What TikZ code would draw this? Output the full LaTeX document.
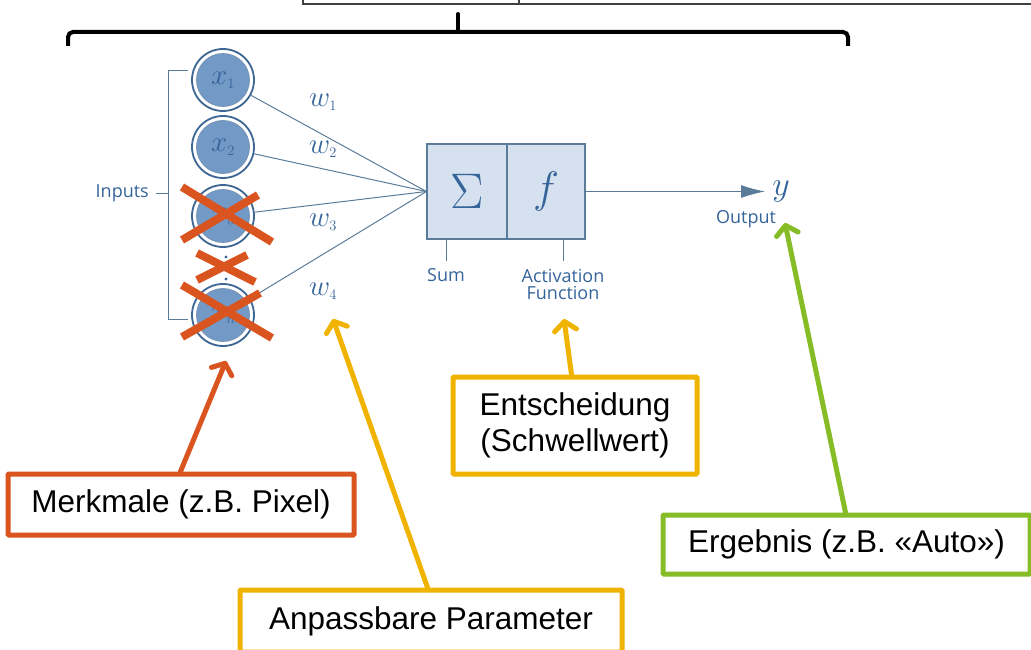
\RequirePackage{fix-cm}
\documentclass[tikz,border=0pt]{standalone}
\usepackage{fontspec}
\setmainfont{Liberation Sans}
\newfontfamily\nnfont{Open Sans}
\usetikzlibrary{arrows.meta,calc}
\definecolor{nnblue}{HTML}{34649A}
\definecolor{nnline}{HTML}{5B7C99}
\definecolor{nnfill}{HTML}{D5E1EE}
\definecolor{cfill}{HTML}{7399C6}
\definecolor{cring}{HTML}{3E6694}
\definecolor{corange}{HTML}{D9541E}
\definecolor{cyellow}{HTML}{F0B400}
\definecolor{cgreen}{HTML}{86BC25}
\tikzset{
  inputnode/.style={circle, minimum size=62pt, inner sep=0pt, draw=cring, line width=1.8pt, fill=white,
    path picture={\fill[cfill] (path picture bounding box.center) circle (26.5pt);
                  \draw[cring!70, line width=0.8pt] (path picture bounding box.center) circle (26.5pt);}},
  nnbox/.style={rectangle, draw=nnline, line width=1.2pt, fill=nnfill, inner sep=0pt},
  wire/.style={draw=nnline, line width=1pt},
  nnlabel/.style={text=nnblue, font=\nnfont\fontsize{18}{17}\selectfont, inner sep=0pt, align=center},
  mathlabel/.style={text=nnblue, inner sep=0pt},
  xlab/.style={mathlabel, font=\fontsize{29}{29}\selectfont},
  wlab/.style={mathlabel, font=\fontsize{29}{29}\selectfont},
  crossline/.style={draw=corange, line width=8pt},
  callbox/.style={rectangle, draw=#1, line width=5pt, fill=white, inner sep=0pt, align=center,
    font=\fontsize{31.5}{36}\selectfont, rounded corners=1pt},
  callarrow/.style={draw=#1, line width=5pt, line cap=round, -{Straight Barb[round,length=9pt,width=22pt]}},
}
\begin{document}
\begin{tikzpicture}[x=1pt,y=-1pt]
\useasboundingbox (0,0) rectangle (1031,650);

% top box (cut)
\draw[line width=1.5pt, draw=black!75] (303,-5) -- (303,4) -- (1040,4);
\draw[line width=1.5pt, draw=black!75] (519,-5) -- (519,4);

% brace
\draw[line width=4pt, rounded corners=5pt] (68,46) -- (68,32) -- (848,32) -- (848,46);
\draw[line width=4pt, line cap=round] (458,32) -- (458,14);

% input circles
\node[inputnode] (x1) at (223,80) {};
\node[inputnode] (x2) at (223,147) {};
\node[inputnode] (x3) at (223,216) {};
\node[inputnode] (xn) at (223,315) {};
\node[xlab] at (x1) {$x_{\scriptscriptstyle 1}$};
\node[xlab] at (x2) {$x_{\scriptscriptstyle 2}$};
\node[xlab] at (x3) {$x_{\scriptscriptstyle 3}$};
\node[xlab] at (xn) {$x_{\scriptscriptstyle n}$};
\fill[nnblue] (226,257) circle (1.6pt) (226,279) circle (1.6pt);

% inputs bracket
\node[nnlabel, anchor=east] (inputs) at (149,193) {Inputs};
\draw[wire] (188,71) -- (168,71) -- (168,319) -- (188,319);
\draw[wire] (inputs.east) ++(7pt,0) -- (168,193);

% summation / activation box
\node[nnbox, minimum width=80pt, minimum height=95pt] (sum) at (467,191.5) {};
\node[nnbox, minimum width=78pt, minimum height=95pt] (act) at (546,191.5) {};
\node[mathlabel, font=\fontsize{50}{50}\selectfont] at (sum) {$\Sigma$};
\node[mathlabel, font=\fontsize{44}{44}\selectfont] at (act) {$f$};

% weights
\draw[wire] (x1) -- (sum.west);
\draw[wire] (x2) -- (sum.west);
\draw[wire] (x3) -- (sum.west);
\draw[wire] (xn) -- (sum.west);
\node[wlab] at (323,102) {$w_{\scriptscriptstyle 1}$};
\node[wlab] at (323,149) {$w_{\scriptscriptstyle 2}$};
\node[wlab] at (323,222) {$w_{\scriptscriptstyle 3}$};
\node[wlab] at (323,291) {$w_{\scriptscriptstyle 4}$};

% output
\node[mathlabel, font=\fontsize{34}{34}\selectfont] (y) at (781,191) {$y$};
\draw[wire, -{Latex[length=24pt,width=13pt]}] (act.east) -- (765,191.5);
\node[nnlabel] (out) at (746,219) {Output};

% ticks & labels
\draw[wire] ([xshift=20pt]sum.south west) -- ++(0,21);
\draw[wire] ([xshift=-22pt]act.south east) -- ++(0,21);
\node[nnlabel] (sumlab) at (446,275) {Sum};
\node[nnlabel] (actlab) at (563,284) {Activation\\Function};

% crosses
\draw[crossline] (182,187) -- (272,242);
\draw[crossline] (182,240) -- (258,195);
\draw[crossline] (197,253) -- (255,282);
\draw[crossline] (197,280) -- (247,255);
\draw[crossline] (182,285) -- (272,338);
\draw[crossline] (182,337) -- (260,293);

% callout boxes
\node[callbox=corange, minimum width=346pt, minimum height=61pt] (merk) at (181,504.5) {Merkmale (z.B. Pixel)};
\node[callbox=cyellow, minimum width=382pt, minimum height=62pt] (anp) at (431,621) {Anpassbare Parameter};
\node[callbox=cyellow, minimum width=244pt, minimum height=97pt] (ent) at (575,425.5) {Entscheidung\\(Schwellwert)};
\node[callbox=cgreen, minimum width=367pt, minimum height=59pt] (erg) at (846.5,544.5) {Ergebnis (z.B. «Auto»)};

\coordinate (tM) at (226,361);
\coordinate (tA) at (333,319);
\coordinate (tE) at (564,319);
\coordinate (tG) at (785,223);
\draw[callarrow=corange] ([xshift=175pt]merk.north west) -- (tM);
\draw[callarrow=cyellow] ([xshift=190pt]anp.north west) -- (tA);
\draw[callarrow=cyellow] ([xshift=121pt]ent.north west) -- (tE);
\draw[callarrow=cgreen] ([xshift=185pt]erg.north west) -- (tG);
\end{tikzpicture}
\end{document}
